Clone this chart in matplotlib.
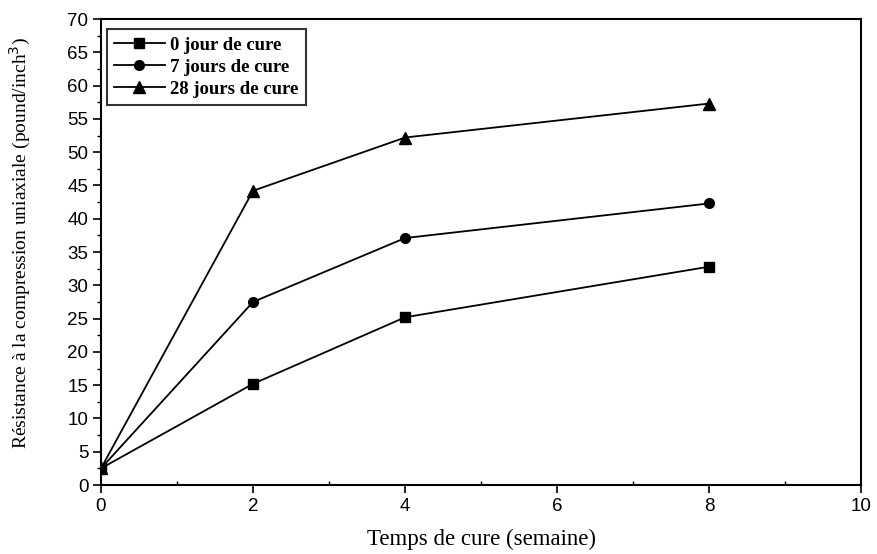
import matplotlib
matplotlib.use('Agg')
from matplotlib import pyplot as plt
from matplotlib.ticker import MultipleLocator

# Curing time (weeks) and uniaxial compressive strength per curing series
weeks = [0, 2, 4, 8]
cure_0 = [2.5, 15.2, 25.2, 32.8]
cure_7 = [2.5, 27.5, 37.1, 42.3]
cure_28 = [2.5, 44.2, 52.2, 57.3]
labels = ['0 jour de cure', '7 jours de cure', '28 jours de cure']

fig = plt.figure(figsize=(8.78, 5.54), dpi=100)
ax = fig.add_axes([0.115, 0.1245, 0.866, 0.8412])

ax.plot(weeks, cure_0, color='black', lw=1.3, marker='s', ms=7, label=labels[0])
ax.plot(weeks, cure_7, color='black', lw=1.3, marker='o', ms=7, label=labels[1])
ax.plot(weeks, cure_28, color='black', lw=1.3, marker='^', ms=8, label=labels[2])

ax.set_xlim(0, 10)
ax.set_ylim(0, 70)
ax.xaxis.set_major_locator(MultipleLocator(2))
ax.xaxis.set_minor_locator(MultipleLocator(1))
ax.yaxis.set_major_locator(MultipleLocator(5))
ax.yaxis.set_minor_locator(MultipleLocator(2.5))
ax.tick_params(which='major', direction='out', length=6, width=1.2,
               labelsize=13.5, pad=3)
ax.tick_params(which='minor', direction='out', length=3, width=1)
ax.tick_params(axis='x', which='minor', direction='in')
for lbl in ax.get_xticklabels() + ax.get_yticklabels():
    lbl.set_family('Liberation Sans')
for spine in ax.spines.values():
    spine.set_linewidth(1.5)

ax.set_xlabel('Temps de cure (semaine)', family='Liberation Serif', fontsize=16.5)
ax.set_ylabel('Résistance à la compression uniaxiale (pound/inch$^3$)',
              family='Liberation Serif', fontsize=14)
ax.xaxis.set_label_coords(0.5, -0.095)
ax.yaxis.set_label_coords(-0.09, 0.52)

leg = ax.legend(loc='upper left', bbox_to_anchor=(0.0, 0.99),
                prop={'family': 'Liberation Serif', 'weight': 'bold', 'size': 13.5},
                frameon=True, fancybox=False, edgecolor='black',
                handlelength=2.7, borderpad=0.4, labelspacing=0.25, handletextpad=0.3,
                borderaxespad=0.3)
leg.get_frame().set_linewidth(1.5)

fig.savefig('out.png', dpi=100)
